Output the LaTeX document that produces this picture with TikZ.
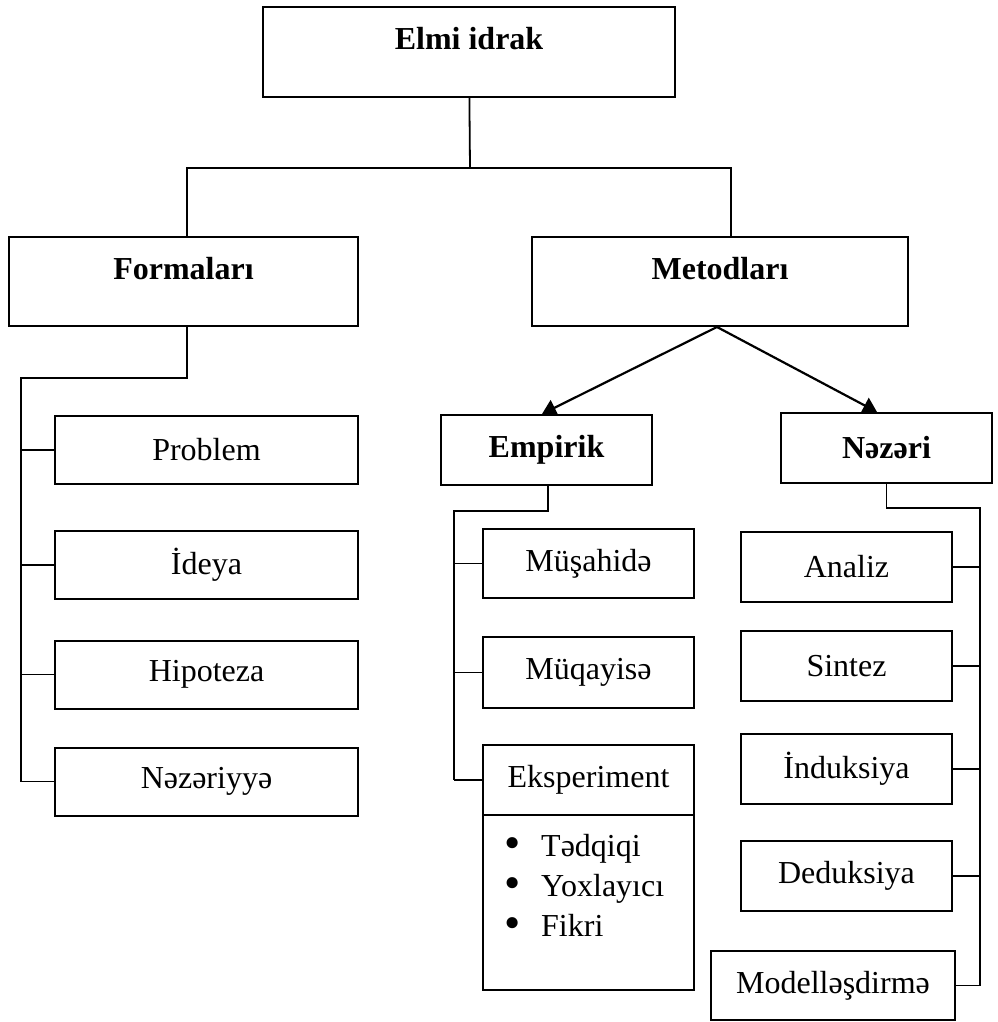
\documentclass[tikz,border=0pt]{standalone}
\usepackage{fontspec}
\setmainfont{Liberation Serif}
\usetikzlibrary{positioning,arrows.meta,calc}
\newcommand{\bulitem}[1]{\makebox[37pt][l]{\raisebox{-2.5pt}{\scalebox{1.45}{\textbullet}}}#1}

\begin{document}
\begin{tikzpicture}[
    x=1pt, y=-1pt,
    >={Triangle[length=14pt,width=17pt]},
    every node/.style={font=\fontsize{32}{40}\selectfont},
    box/.style={
        draw,
        line width=2pt,
        inner sep=0pt,
        align=center
    },
    headbox/.style={box, font=\fontsize{32}{40}\selectfont\bfseries, text height=22pt, text depth=26pt},
    boldbox/.style={box, font=\fontsize{32}{40}\selectfont\bfseries, minimum width=211pt, minimum height=70pt},
    formbox/.style={box, minimum width=303pt, minimum height=68pt},
    methbox/.style={box, minimum width=211pt, minimum height=70pt},
    wire/.style={line width=1.8pt},
    arrow/.style={->, line width=2.2pt}
]
\useasboundingbox (0,0) rectangle (997,1022);

% top levels
\node[headbox, minimum width=412pt, minimum height=90pt] (elmi) at (469,52) {Elmi idrak};
\node[headbox, minimum width=349pt, minimum height=89pt] (forma) at (183.5,281.5) {Formaları};
\node[headbox, minimum width=376pt, minimum height=89pt] (metod) at (720,281.5) {Metodları};

% formalari
\node[formbox] (problem) at (206.5,450) {Problem};
\node[formbox] (ideya) at (206.5,565) {İdeya};
\node[formbox] (hipot) at (206.5,674.5) {Hipoteza};
\node[formbox] (nezeriyye) at (206.5,781.5) {Nəzəriyyə};

% metodlari
\node[boldbox] (empirik) at (546.5,450) {Empirik};
\node[boldbox] (nezeri) at (886.5,448) {Nəzəri};

\node[methbox, minimum height=69pt] (musahide) at (588.5,563.5) {Müşahidə};
\node[methbox, minimum height=71pt] (muqayise) at (588.5,672.5) {Müqayisə};
\node[methbox] (eksp) at (588.5,780) {Eksperiment};
\node[methbox, minimum height=175pt] (eksbody) at (588.5,902.5) {};
\node[anchor=north west, align=left, inner sep=0pt] (eksitems) at ($(eksbody.north west)+(22,20)$)
    {\bulitem{Tədqiqi}\\ \bulitem{Yoxlayıcı}\\ \bulitem{Fikri}};

\node[methbox] (analiz) at (846.5,567) {Analiz};
\node[methbox] (sintez) at (846.5,666) {Sintez};
\node[methbox] (induks) at (846.5,769) {İnduksiya};
\node[methbox] (deduks) at (846.5,876) {Deduksiya};
\node[methbox, minimum width=244pt, minimum height=69pt] (model) at (833,985.5) {Modelləşdirmə};

% connectors
\coordinate (hub) at (470,168);
\draw[wire] (elmi) -- (hub);
\draw[wire] ([xshift=3.5pt]forma.north) |- (hub) -| ([xshift=11pt]metod.north);

\coordinate (formrail) at (21,378);
\draw[wire] ([xshift=3.5pt]forma.south) |- (formrail) -- (formrail |- nezeriyye.west);
\foreach \b in {problem,ideya,hipot,nezeriyye}
    \draw[wire] (\b.west) -- (\b.west -| formrail);

\draw[arrow] ([xshift=-3pt]metod.south) -- ([xshift=-4.5pt]empirik.north);
\draw[arrow] ([xshift=-3pt]metod.south) -- ([xshift=-9.5pt]nezeri.north);

\coordinate (emprail) at (454,511);
\draw[wire] ([xshift=1.5pt]empirik.south) |- (emprail) -- (emprail |- eksp.west);
\foreach \b in {musahide,muqayise,eksp}
    \draw[wire] (\b.west) -- (\b.west -| emprail);

\coordinate (nezrail) at (980,508);
\draw[wire] (nezeri.south) |- (nezrail) -- (nezrail |- model.east);
\foreach \b in {analiz,sintez,induks,deduks,model}
    \draw[wire] (\b.east) -- (\b.east -| nezrail);

\end{tikzpicture}
\end{document}
